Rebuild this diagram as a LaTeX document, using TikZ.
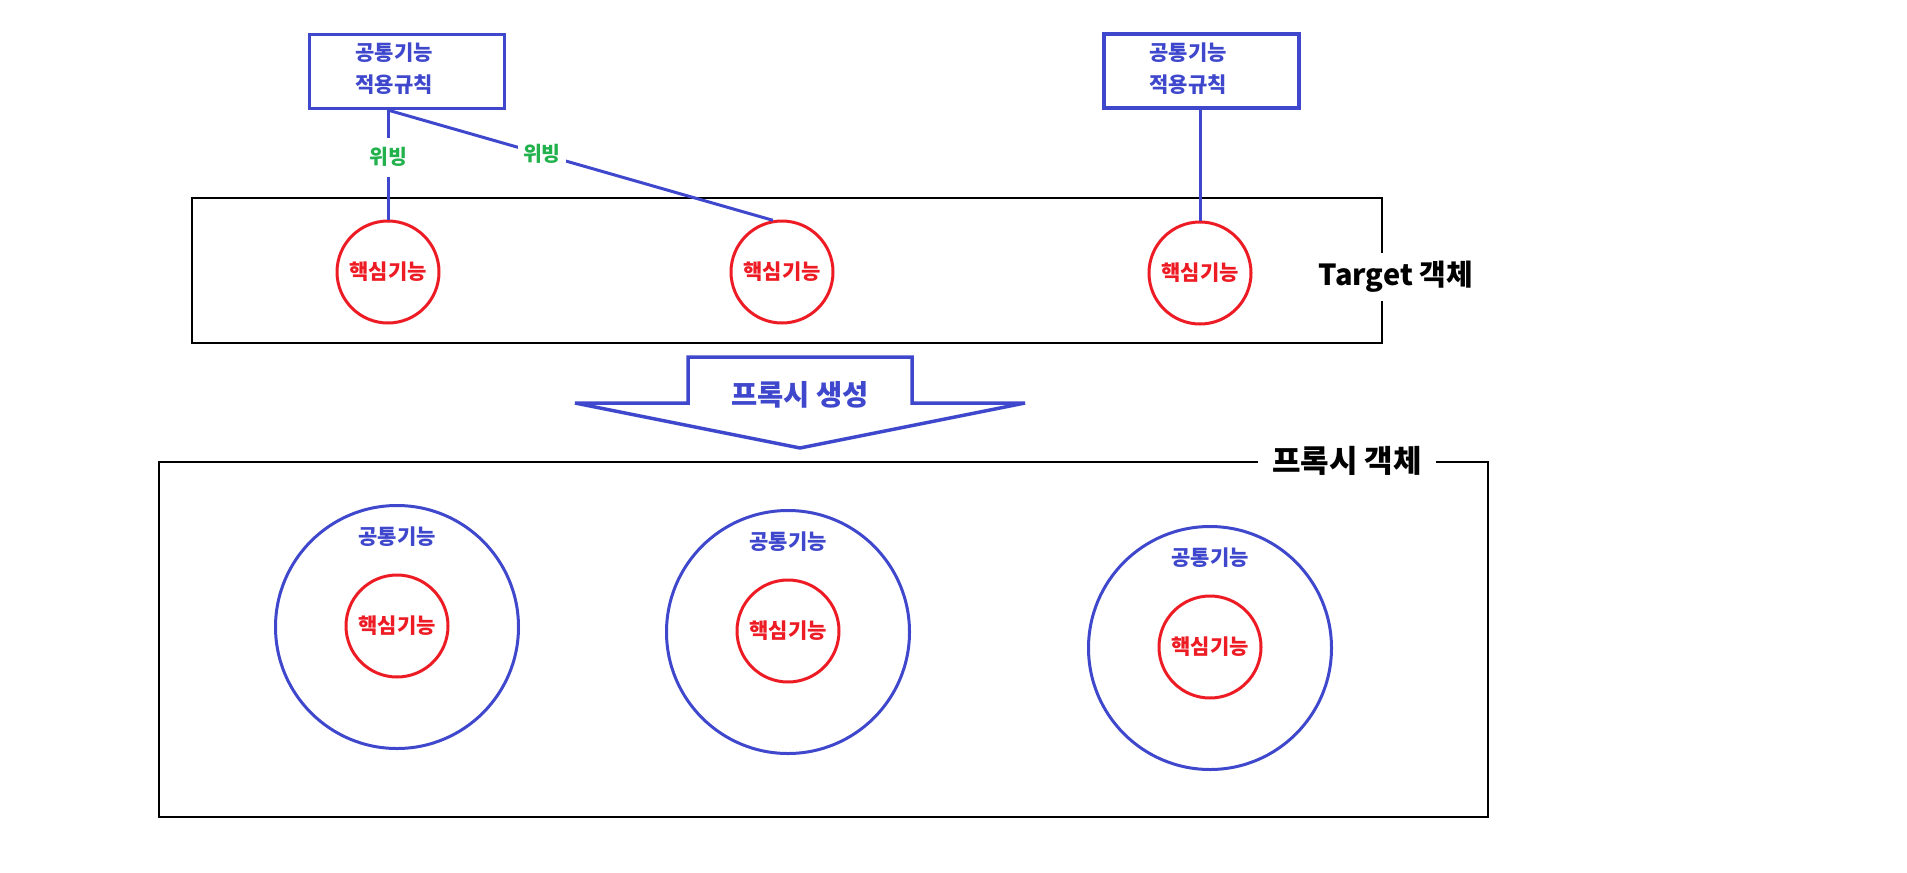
\documentclass[tikz,border=0pt]{standalone}
\usepackage{fontspec}
\setmainfont{Noto Sans CJK KR}
\usepackage{tikz}
\usetikzlibrary{positioning}
\definecolor{pxindigo}{RGB}{63,72,204}
\definecolor{pxred}{RGB}{237,28,36}
\definecolor{pxgreen}{RGB}{34,177,76}

\begin{document}
\begin{tikzpicture}[x=1pt,y=-1pt,
    core/.style={circle,draw=pxred,line width=3pt,minimum size=102pt,inner sep=0pt,
      text=pxred,font=\bfseries\fontsize{21}{24}\selectfont},
    shell/.style={circle,draw=pxindigo,line width=3pt,minimum size=243pt,inner sep=0pt},
    shelltext/.style={text=pxindigo,inner sep=0pt,font=\bfseries\fontsize{21}{24}\selectfont},
    rulebox/.style={draw=pxindigo,line width=3.2pt,minimum width=195pt,minimum height=74pt,inner sep=0pt},
    ruletext/.style={text=pxindigo,align=center,inner sep=0pt,font=\bfseries\fontsize{21}{32}\selectfont},
    link/.style={draw=pxindigo,line width=3pt},
    weave/.style={text=pxgreen,fill=white,inner xsep=5pt,inner ysep=10pt,
      font=\bfseries\fontsize{20.5}{24}\selectfont},
    objbox/.style={draw=black,line width=1.5pt,inner sep=0pt},
    objlabel/.style={fill=white,text=black,inner xsep=12pt,inner ysep=8pt,
      font=\bfseries\fontsize{29}{32}\selectfont}]
  \useasboundingbox (0,0) rectangle (1907,873);

  % target object and its core functions
  \node[objbox,minimum width=1190pt,minimum height=145pt] (target) at (787,270.5) {};
  \node[core] (core1) at (388,272) {핵심기능};
  \node[core] (core2) at (782,272) {핵심기능};
  \node[core] (core3) at (1200,273) {핵심기능};
  \node[objlabel] (targetlbl) at ([xshift=13pt,yshift=-6.5pt]target.east) {Target 객체};

  % common function rules
  \node[rulebox] (rule1) at (407,71.5) {};
  \node[ruletext] (rule1txt) at (394,69) {공통기능\\적용규칙};
  \node[rulebox] (rule2) at (1201.5,71) {};
  \node[ruletext] (rule2txt) at (1188,69) {공통기능\\적용규칙};

  \coordinate (hub1) at (rule1.south -| core1.north);
  \coordinate (hub2) at (rule2.south -| core3.north);
  \draw[link] (hub1) -- node[weave,pos=0.43] (weave1) {위빙} (core1.north);
  \draw[link] (hub1) -- node[weave,pos=0.4] (weave2) {위빙} (core2.100);
  \draw[link] (hub2) -- (core3.north);

  % proxy generation arrow
  \draw[pxindigo,line width=3.5pt,line join=miter]
    (688,357) -- (912,357) -- (912,403) -- (1025,403) -- (800,448)
    -- (575,403) -- (688,403) -- cycle;
  \node[text=pxindigo,font=\bfseries\fontsize{28.5}{30}\selectfont] (gen) at (800,395) {프록시 생성};

  % proxy object
  \node[objbox,minimum width=1329pt,minimum height=355pt] (proxy) at (823.5,639.5) {};
  \node[objlabel,inner xsep=14pt,font=\bfseries\fontsize{31}{34}\selectfont] (proxylbl)
    at ([xshift=523.5pt]proxy.north) {프록시 객체};

  \node[shell] (shell1) at (397,627) {};
  \node[shell] (shell2) at (788,632) {};
  \node[shell] (shell3) at (1210,648) {};
  \node[core] (inner1) at (397,626) {핵심기능};
  \node[core] (inner2) at (788,631) {핵심기능};
  \node[core] (inner3) at (1210,647) {핵심기능};
  \node[shelltext] (com1) at ([yshift=89pt]inner1.center) {공통기능};
  \node[shelltext] (com2) at ([yshift=89pt]inner2.center) {공통기능};
  \node[shelltext] (com3) at ([yshift=89pt]inner3.center) {공통기능};
\end{tikzpicture}
\end{document}
